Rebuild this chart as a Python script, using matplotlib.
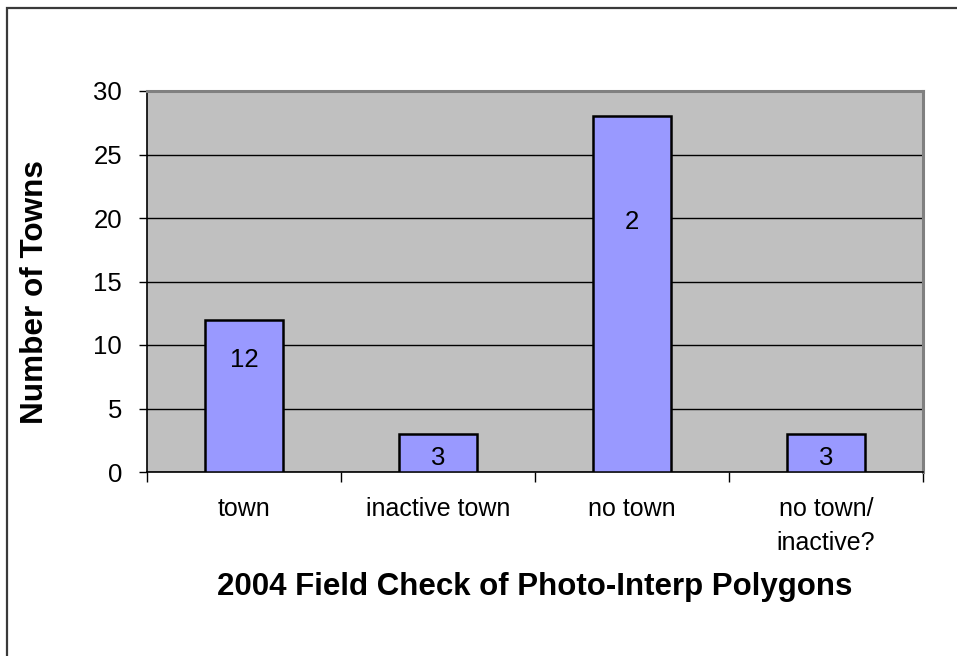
import matplotlib
matplotlib.use("Agg")
import matplotlib.pyplot as plt
from matplotlib.patches import Rectangle

# Field check results
categories = ["town", "inactive town", "no town", "no town/\ninactive?"]
counts = [12, 3, 28, 3]
bar_labels = ["12", "3", "2", "3"]
label_heights = [8.8, 1.1, 19.7, 1.1]
y_ticks = [0, 5, 10, 15, 20, 25, 30]

plt.rcParams["font.family"] = ["Liberation Sans", "DejaVu Sans"]

W, H = 957, 656
fig = plt.figure(figsize=(W / 100, H / 100), dpi=100)
fig.patch.set_facecolor("white")

# chart frame (only top and left edges fall inside the image)
fig.patches.append(Rectangle((7.5 / W, -0.05), 1.2, 1.05 - 7.5 / H,
                             transform=fig.transFigure, fill=False,
                             edgecolor="#3a3a3a", linewidth=1.6))

left, right, top, bottom = 147, 923, 91, 472
ax = fig.add_axes([left / W, 1 - bottom / H, (right - left) / W, (bottom - top) / H])
ax.set_facecolor("#C0C0C0")

xs = list(range(len(categories)))
ax.set_xlim(-0.5, len(categories) - 0.5)
ax.set_ylim(0, 30)

ax.set_yticks(y_ticks)
ax.yaxis.grid(True, color="#000000", linewidth=1.0)
ax.set_axisbelow(True)

ax.bar(xs, counts, width=0.4, color="#9999FF", edgecolor="#000000",
       linewidth=1.8, zorder=3)

for x, txt, h in zip(xs, bar_labels, label_heights):
    ax.text(x, h, txt, ha="center", va="center", fontsize=18.5, color="black", zorder=4)

# category labels under the bars, boundary ticks between them
ax.set_xticks(xs)
ax.set_xticklabels(categories, fontsize=18, linespacing=1.5, va="top")
ax.tick_params(axis="x", which="major", length=0, pad=18)
ax.set_xticks([i - 0.5 for i in range(len(categories) + 1)], minor=True)
ax.tick_params(axis="x", which="minor", length=7, width=1.0, color="black", direction="out")

ax.tick_params(axis="y", length=6, width=1.0, color="black", direction="out",
               labelsize=18.5, pad=12)

for side in ("top", "right"):
    ax.spines[side].set_color("#808080")
    ax.spines[side].set_linewidth(2.2)
for side in ("left", "bottom"):
    ax.spines[side].set_color("black")
    ax.spines[side].set_linewidth(1.2)

fig.text(35 / W, 1 - 292 / H, "Number of Towns", rotation=90, ha="center", va="center",
         fontsize=22.7, fontweight="bold")
fig.text(535 / W, 1 - 587 / H, "2004 Field Check of Photo-Interp Polygons",
         ha="center", va="center", fontsize=22.5, fontweight="bold")

fig.savefig("out.png", dpi=100)
